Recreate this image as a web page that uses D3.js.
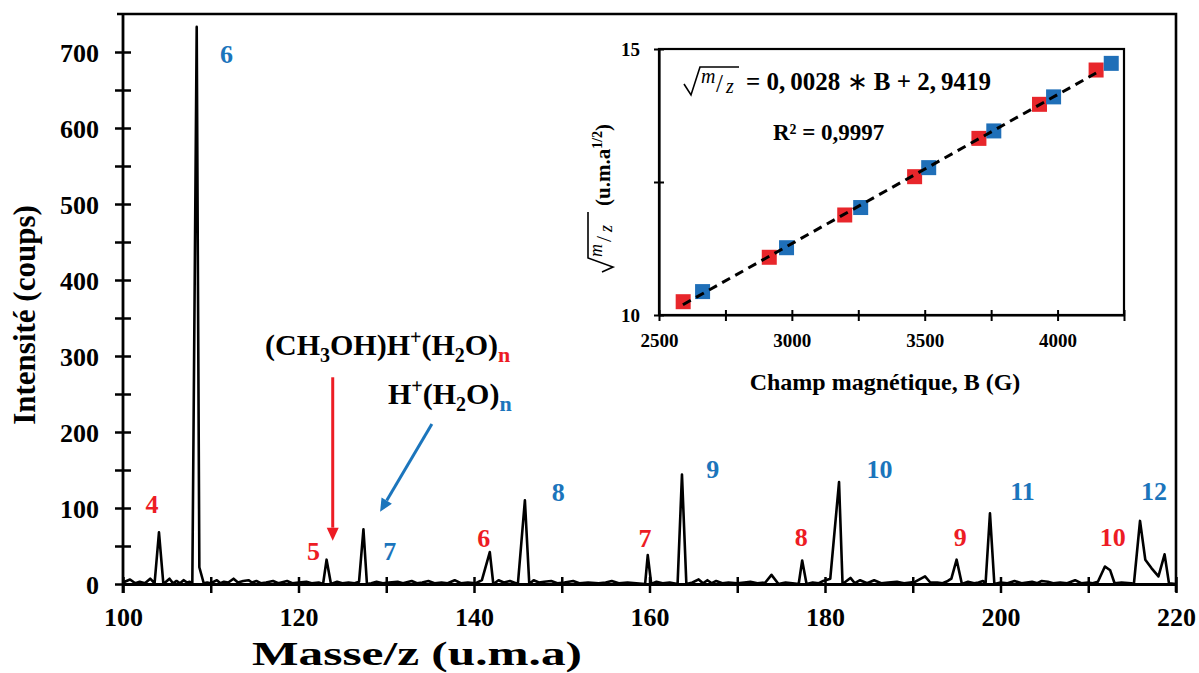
<!DOCTYPE html>
<html>
<head>
<meta charset="utf-8">
<script src="https://cdn.jsdelivr.net/npm/d3@7"></script>
<style>
  html, body { margin: 0; padding: 0; background: #ffffff; }
  svg { display: block; }
  text { font-family: "Liberation Serif", "Times New Roman", serif; font-weight: bold; }
</style>
</head>
<body>
<svg id="chart" width="1199" height="673"></svg>
<script>
// ---------------- DATA ----------------
// Main spectrum: mass/charge (u.m.a) and intensity (counts)
const massValues = [
  100.0,100.8,101.4,101.9,102.5,103.1,103.6,104.1,104.6,105.3,105.7,106.1,106.5,106.9,107.3,107.6,107.9,108.4,108.7,109.2,
  109.6,110.0,110.7,111.1,111.5,112.0,112.6,113.1,113.7,114.3,114.7,115.2,115.7,116.3,117.1,117.7,118.7,119.3,120.0,120.9,
  121.5,122.3,122.8,123.2,123.7,124.4,125.0,125.7,126.4,126.9,127.4,127.8,128.3,128.9,129.6,130.3,131.3,131.9,132.9,133.5,
  134.1,134.8,135.5,136.3,137.0,137.8,138.5,139.3,140.2,140.9,141.8,142.2,142.8,143.4,144.1,145.0,145.8,146.3,146.8,147.4,
  148.0,148.8,149.5,150.3,151.3,152.0,153.0,154.2,155.0,155.7,156.5,157.5,158.5,159.5,159.8,160.2,160.8,161.5,162.3,163.2,
  163.7,164.2,164.9,165.6,166.1,166.6,167.1,167.6,168.3,169.0,170.0,170.8,171.5,172.3,173.2,173.9,174.7,175.5,176.3,177.0,
  177.4,177.9,178.6,179.3,179.8,180.6,181.6,182.0,182.9,183.4,184.0,184.8,185.6,186.4,187.2,188.2,189.0,189.7,190.3,191.4,
  192.0,192.8,193.4,194.0,194.4,195.0,195.6,196.3,197.0,197.5,198.0,198.3,198.8,199.3,200.0,200.8,201.6,202.4,203.0,203.6,
  204.2,204.7,205.4,206.0,206.8,207.6,208.5,209.2,210.0,210.5,211.1,211.9,212.5,213.0,213.8,214.9,215.2,215.9,216.5,217.2,
  218.0,218.7,219.2,220.0
];
const intensityValues = [
  2,6,1,3,1,7,1,68,0,7,1,4,1,5,2,3,0,733,22,1,
  2,1,5,1,3,2,7,2,4,5,2,4,1,2,4,1,4,1,2,3,
  1,2,0,32,0,3,1,2,1,3,72,0,1,3,1,2,3,1,4,1,
  2,4,1,2,1,5,1,2,1,5,42,0,5,2,4,0,110,0,5,2,
  3,4,1,2,4,1,2,1,2,4,1,2,1,0,38,0,3,1,2,0,
  144,0,2,6,1,5,1,4,1,2,1,2,3,1,2,12,0,2,1,0,
  31,0,2,1,4,7,134,0,8,1,5,1,5,1,2,3,1,2,3,10,
  2,2,1,4,7,32,0,3,1,2,4,1,93,0,2,1,4,1,2,3,
  1,4,3,1,2,1,5,1,2,1,3,23,18,1,2,1,0,83,32,21,
  10,39,1,0
];

// Axis ticks (main)
const xTickValues = [100,110,120,130,140,150,160,170,180,190,200,210,220];
const xTickLabels = [100,120,140,160,180,200,220];
const yTickValues = [0,50,100,150,200,250,300,350,400,450,500,550,600,650,700];
const yTickLabels = [0,100,200,300,400,500,600,700];

// Peak labels: cluster size n, position (m/z, intensity), series
const peakLabelText   = ["6","4","5","7","6","8","7","9","8","10","9","11","10","12"];
const peakLabelMass   = [111.8,103.3,121.7,130.4,141.1,149.6,159.5,167.2,177.3,186.2,195.4,202.5,212.8,217.5];
const peakLabelInt    = [686,94,32,32,49,109,49,139,50,139,50,110.5,50,110.5];
const peakLabelSeries = ["H","M","M","H","M","H","M","H","M","H","M","H","M","H"];

// Inset: magnetic field B (G) vs sqrt(m/z)
const redB     = [2591,2915,3199,3462,3704,3932,4145];
const redSqrt  = [10.25,11.085,11.88,12.60,13.32,13.96,14.605];
const blueB    = [2664,2980,3259,3515,3760,3985,4202];
const blueSqrt = [10.44,11.265,12.02,12.77,13.46,14.10,14.73];
const fitSlope = 0.0028;
const fitIntercept = 2.9419;
const fitRange = [2590,4145];
const insetXTicks = [2500,2750,3000,3250,3500,3750,4000,4250];
const insetXLabels = [2500,3000,3500,4000];
const insetYTicks = [10,12.5,15];
const insetYLabels = [10,15];

// ---------------- STYLE ----------------
const RED = "#ed1c24";
const BLUE = "#1b75bc";
const MRED = "#e8262b";
const MBLUE = "#1f6fb8";

const svg = d3.select("#chart");
svg.append("rect").attr("width",1199).attr("height",673).attr("fill","#fff");

// ---------------- MAIN CHART ----------------
const x = d3.scaleLinear().domain([100,220]).range([123,1176]);
const y = d3.scaleLinear().domain([0,750]).range([584,14]);

// frame (top & right)
svg.append("path")
  .attr("d", `M${x(100)-6},${y(750)}H${x(220)}V${y(0)+8}`)
  .attr("fill","none").attr("stroke","#000").attr("stroke-width",2.6);

// spectrum line
const spectrum = massValues.map((m,i)=>[m,intensityValues[i]]);
svg.append("path")
  .datum(spectrum)
  .attr("fill","none").attr("stroke","#000").attr("stroke-width",2.6)
  .attr("stroke-linejoin","round")
  .attr("d", d3.line().x(d=>x(d[0])).y(d=>y(d[1])));

// x axis
const xAxis = svg.append("g").attr("transform",`translate(0,${y(0)})`)
  .call(d3.axisBottom(x).tickValues(xTickValues).tickSizeOuter(0)
    .tickFormat(d => xTickLabels.includes(d) ? d : ""));
xAxis.select(".domain").attr("stroke-width",2.8);
xAxis.selectAll(".tick line").attr("y1",-7).attr("y2",9).attr("stroke-width",2.5);
xAxis.selectAll(".tick text").attr("y",42).attr("dy",0)
  .attr("font-size",26).attr("fill","#000")
  .style("font-family","'Liberation Serif', serif").style("font-weight","bold");

// y axis
const yAxis = svg.append("g").attr("transform",`translate(${x(100)},0)`)
  .call(d3.axisLeft(y).tickValues(yTickValues).tickSizeOuter(0)
    .tickFormat(d => yTickLabels.includes(d) ? d : ""));
yAxis.select(".domain").attr("d",`M0,${y(750)}V${y(0)+9}`).attr("stroke-width",2.8);
yAxis.selectAll(".tick line").attr("x1",8).attr("x2",-8).attr("stroke-width",2.5);
yAxis.selectAll(".tick text").attr("x",-24).attr("dy","0.35em")
  .attr("font-size",26).attr("fill","#000")
  .style("font-family","'Liberation Serif', serif").style("font-weight","bold");

// axis titles
svg.append("text").attr("x",417).attr("y",665).attr("text-anchor","middle")
  .attr("font-size",34).attr("textLength",330).attr("lengthAdjust","spacingAndGlyphs")
  .text("Masse/z (u.m.a)");
svg.append("text").attr("transform","translate(35,315) rotate(-90)")
  .attr("text-anchor","middle").attr("font-size",31).text("Intensité (coups)");

// peak labels
svg.append("g").selectAll("text")
  .data(peakLabelText.map((t,i)=>({t, m:peakLabelMass[i], v:peakLabelInt[i], s:peakLabelSeries[i]})))
  .join("text")
  .attr("x", d=>x(d.m)).attr("y", d=>y(d.v))
  .attr("text-anchor","middle").attr("font-size",26)
  .attr("fill", d=> d.s==="H" ? BLUE : RED)
  .text(d=>d.t);

// species annotations
const t1 = svg.append("text").attr("x",265).attr("y",355).attr("font-size",30).attr("fill","#000");
t1.append("tspan").text("(CH");
t1.append("tspan").attr("dy",7).attr("font-size",20).text("3");
t1.append("tspan").attr("dy",-7).text("OH)H");
t1.append("tspan").attr("dy",-11).attr("font-size",20).text("+");
t1.append("tspan").attr("dy",11).text("(H");
t1.append("tspan").attr("dy",7).attr("font-size",20).text("2");
t1.append("tspan").attr("dy",-7).text("O)");
t1.append("tspan").attr("dy",7).attr("font-size",22).attr("fill",RED).text("n");

const t2 = svg.append("text").attr("x",388).attr("y",404).attr("font-size",30).attr("fill","#000");
t2.append("tspan").text("H");
t2.append("tspan").attr("dy",-11).attr("font-size",20).text("+");
t2.append("tspan").attr("dy",11).text("(H");
t2.append("tspan").attr("dy",7).attr("font-size",20).text("2");
t2.append("tspan").attr("dy",-7).text("O)");
t2.append("tspan").attr("dy",7).attr("font-size",22).attr("fill",BLUE).text("n");

// arrows (defined in data coordinates)
function arrow(m0,i0,m1,i1,color){
  const x0=x(m0), y0=y(i0), x1=x(m1), y1=y(i1);
  const ang = Math.atan2(y1-y0, x1-x0);
  const L = 13, W = 6;
  const bx = x1 - L*Math.cos(ang), by = y1 - L*Math.sin(ang);
  svg.append("line").attr("x1",x0).attr("y1",y0).attr("x2",bx).attr("y2",by)
    .attr("stroke",color).attr("stroke-width",3);
  svg.append("path")
    .attr("d",`M${x1},${y1}L${bx - W*Math.sin(ang)},${by + W*Math.cos(ang)}L${bx + W*Math.sin(ang)},${by - W*Math.cos(ang)}Z`)
    .attr("fill",color);
}
arrow(123.9,272,123.9,57,RED);
arrow(135.2,210.5,129.3,95,BLUE);

// ---------------- INSET ----------------
const xi = d3.scaleLinear().domain([2500,4250]).range([659,1124]);
const yi = d3.scaleLinear().domain([10,15]).range([315,49]);

svg.append("rect").attr("x",xi(2500)).attr("y",yi(15))
  .attr("width",xi(4250)-xi(2500)).attr("height",yi(10)-yi(15))
  .attr("fill","#fff").attr("stroke","#000").attr("stroke-width",2.2);

const xiAxis = svg.append("g").attr("transform",`translate(0,${yi(10)})`)
  .call(d3.axisBottom(xi).tickValues(insetXTicks).tickSizeOuter(0)
    .tickFormat(d => insetXLabels.includes(d) ? d : ""));
xiAxis.select(".domain").attr("stroke-width",2.2);
xiAxis.selectAll(".tick line").attr("y1",-5).attr("y2",6).attr("stroke-width",2);
xiAxis.selectAll(".tick text").attr("y",32).attr("dy",0).attr("font-size",19).attr("fill","#000")
  .style("font-family","'Liberation Serif', serif").style("font-weight","bold");

const yiAxis = svg.append("g").attr("transform",`translate(${xi(2500)},0)`)
  .call(d3.axisLeft(yi).tickValues(insetYTicks).tickSizeOuter(0)
    .tickFormat(d => insetYLabels.includes(d) ? d : ""));
yiAxis.select(".domain").attr("stroke-width",2.2);
yiAxis.selectAll(".tick line").attr("x1",5).attr("x2",-5).attr("stroke-width",2);
yiAxis.selectAll(".tick text").attr("x",-19).attr("dy","0.35em").attr("font-size",19).attr("fill","#000")
  .style("font-family","'Liberation Serif', serif").style("font-weight","bold");

// markers
const S = 15;
svg.append("g").selectAll("rect").data(redB.map((b,i)=>[b,redSqrt[i]])).join("rect")
  .attr("x",d=>xi(d[0])-S/2).attr("y",d=>yi(d[1])-S/2).attr("width",S).attr("height",S).attr("fill",MRED);
svg.append("g").selectAll("rect").data(blueB.map((b,i)=>[b,blueSqrt[i]])).join("rect")
  .attr("x",d=>xi(d[0])-S/2).attr("y",d=>yi(d[1])-S/2).attr("width",S).attr("height",S).attr("fill",MBLUE);

// fit line
svg.append("line")
  .attr("x1",xi(fitRange[0])).attr("y1",yi(fitSlope*fitRange[0]+fitIntercept))
  .attr("x2",xi(fitRange[1])).attr("y2",yi(fitSlope*fitRange[1]+fitIntercept))
  .attr("stroke","#000").attr("stroke-width",3).attr("stroke-dasharray","9,6");

// equation
svg.append("path").attr("d","M684,84L691,95L700,67H739")
  .attr("fill","none").attr("stroke","#000").attr("stroke-width",1.6);
svg.append("text").attr("x",701).attr("y",83).attr("font-size",20)
  .attr("font-style","italic").style("font-weight","normal").text("m");
svg.append("text").attr("x",716).attr("y",92).attr("font-size",25)
  .style("font-weight","normal").text("/");
svg.append("text").attr("x",726).attr("y",93).attr("font-size",20)
  .attr("font-style","italic").style("font-weight","normal").text("z");
const eq = svg.append("text").attr("x",746).attr("y",90).attr("font-size",25);
eq.append("tspan").text("= 0,\u20090028 ");
eq.append("tspan").style("font-weight","normal").text("\u2217");
eq.append("tspan").text(" B + 2,\u20099419");
svg.append("text").attr("x",773).attr("y",140).attr("font-size",23).text("R² = 0,9997");

// inset axis titles
svg.append("text").attr("x",885).attr("y",390).attr("text-anchor","middle")
  .attr("font-size",24).text("Champ magnétique, B (G)");

const yt = svg.append("g").attr("transform","translate(610,192) rotate(-90)");
yt.append("path").attr("d","M-80,-8L-75,3L-66,-22H-20")
  .attr("fill","none").attr("stroke","#000").attr("stroke-width",1.6);
yt.append("text").attr("x",-65).attr("y",-8).attr("font-size",18)
  .attr("font-style","italic").style("font-weight","normal").text("m");
yt.append("text").attr("x",-50).attr("y",1).attr("font-size",22)
  .style("font-weight","normal").text("/");
yt.append("text").attr("x",-40).attr("y",2).attr("font-size",18)
  .attr("font-style","italic").style("font-weight","normal").text("z");
const ytt = yt.append("text").attr("x",-14).attr("y",0).attr("font-size",21);
ytt.append("tspan").text("(u.m.a");
ytt.append("tspan").attr("dy",-8).attr("font-size",14).text("1/2");
ytt.append("tspan").attr("dy",8).text(")");
</script>
</body>
</html>
